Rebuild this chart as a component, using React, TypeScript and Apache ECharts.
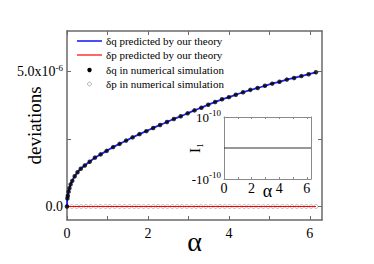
import React, { useEffect, useRef } from "react";
import * as echarts from "echarts";

const FONT = "Liberation Serif";

// δq (theory curve and simulation dots share these α positions), values in units of 1e-6
const dqAlpha = [0, 0.01, 0.02, 0.04, 0.06, 0.09, 0.13, 0.19, 0.26, 0.34, 0.44, 0.56, 0.69, 0.83, 0.98, 1.14, 1.3, 1.46, 1.62, 1.79, 1.96, 2.13, 2.3, 2.47, 2.64, 2.81, 2.98, 3.15, 3.32, 3.49, 3.66, 3.83, 4.0, 4.17, 4.35, 4.53, 4.71, 4.89, 5.07, 5.25, 5.43, 5.61, 5.79, 5.97, 6.15];
const dqValues = [0, 0.3, 0.4, 0.55, 0.68, 0.82, 0.95, 1.12, 1.27, 1.4, 1.52, 1.66, 1.81, 1.93, 2.06, 2.2, 2.32, 2.44, 2.56, 2.68, 2.79, 2.91, 3.02, 3.13, 3.24, 3.34, 3.45, 3.56, 3.66, 3.77, 3.87, 3.97, 4.05, 4.14, 4.23, 4.32, 4.39, 4.47, 4.55, 4.62, 4.7, 4.76, 4.83, 4.9, 4.97];

// δp theory line
const dpTheoryAlpha = [0, 6.15];
const dpTheoryValues = [0, 0];

// δp simulation (open circles)
const dpSimAlpha = [0, 0.12, 0.24, 0.35, 0.47, 0.59, 0.71, 0.83, 0.95, 1.06, 1.18, 1.3, 1.42, 1.54, 1.66, 1.77, 1.89, 2.01, 2.13, 2.25, 2.37, 2.48, 2.6, 2.72, 2.84, 2.96, 3.08, 3.19, 3.31, 3.43, 3.55, 3.67, 3.78, 3.9, 4.02, 4.14, 4.26, 4.38, 4.49, 4.61, 4.73, 4.85, 4.97, 5.09, 5.2, 5.32, 5.44, 5.56, 5.68, 5.8, 5.91, 6.03, 6.15];
const dpSimValues = [0, 0, 0, 0, 0, 0, 0, 0, 0, 0, 0, 0, 0, 0, 0, 0, 0, 0, 0, 0, 0, 0, 0, 0, 0, 0, 0, 0, 0, 0, 0, 0, 0, 0, 0, 0, 0, 0, 0, 0, 0, 0, 0, 0, 0, 0, 0, 0, 0, 0, 0, 0, 0];

// inset I1
const insetAlpha = [0, 6.3];
const insetValues = [0, 0];

const SCALE = 1e-6;
const mainYLabels = [0, 5e-6];
const mainYTicks = [0, 2.5e-6, 5e-6];
const mainXLabels = [0, 2, 4, 6];
const mainXTicks = [0, 1, 2, 3, 4, 5, 6];
const insetXLabels = [0, 2, 4, 6];
const insetXTicks = [0, 1, 2, 3, 4, 5, 6];
const insetYLabels = [-1e-10, 1e-10];

const legendItems = [
  "δq predicted by our theory",
  "δp predicted by our theory",
  "δq in numerical simulation",
  "δp in numerical simulation",
];

const zip = (xs: number[], ys: number[], s = 1) => xs.map((x, i) => [x, ys[i] * s]);

export default function App() {
  const ref = useRef<HTMLDivElement>(null);
  useEffect(() => {
    if (!ref.current) return;
    const chart = echarts.init(ref.current, null, { renderer: "svg" });
    const frame = { lineStyle: { color: "#6a6a6a", width: 1.5 } };
    const inFrame = { lineStyle: { color: "#8a8a8a", width: 1 } };
    const legendY = [41, 55, 70, 84];
    chart.setOption({
      animation: false,
      backgroundColor: "#fff",
      textStyle: { fontFamily: FONT },
      grid: [
        { left: 67, top: 31, width: 255, height: 189, containLabel: false, outerBoundsMode: "none" },
        { left: 224, top: 117, width: 87, height: 62, containLabel: false, outerBoundsMode: "none" },
      ],
      xAxis: [
        {
          gridIndex: 0, type: "value", min: 0, max: 6.3, position: "bottom",
          axisLine: { show: true, onZero: false, ...frame },
          axisTick: { show: true, inside: true, length: 4, customValues: mainXTicks, lineStyle: { color: "#6a6a6a", width: 1 } },
          axisLabel: { customValues: mainXLabels, fontSize: 14, color: "#000", fontFamily: FONT, margin: 6 },
          splitLine: { show: false },
          name: "α", nameLocation: "middle", nameGap: 7, nameMoveOverlap: false,
          nameTextStyle: { fontSize: 28, fontFamily: FONT, color: "#000", verticalAlign: "top" },
        },
        {
          gridIndex: 0, type: "value", min: 0, max: 6.3, position: "top",
          axisLine: { show: true, onZero: false, ...frame },
          axisTick: { show: true, inside: true, length: 4, customValues: mainXTicks, lineStyle: { color: "#6a6a6a", width: 1 } },
          axisLabel: { show: false }, splitLine: { show: false },
        },
        {
          gridIndex: 1, type: "value", min: 0, max: 6.3, position: "bottom",
          axisLine: { show: true, onZero: false, ...inFrame },
          axisTick: { show: true, inside: true, length: 2, customValues: insetXTicks, lineStyle: { color: "#8a8a8a" } },
          axisLabel: { customValues: insetXLabels, fontSize: 14, color: "#000", fontFamily: FONT, margin: 2 },
          splitLine: { show: false },
          name: "α", nameLocation: "middle", nameGap: 3, nameMoveOverlap: false,
          nameTextStyle: { fontSize: 18, fontFamily: FONT, color: "#000", verticalAlign: "top" },
        },
        {
          gridIndex: 1, type: "value", min: 0, max: 6.3, position: "top",
          axisLine: { show: true, onZero: false, ...inFrame },
          axisTick: { show: true, inside: true, length: 2, customValues: insetXTicks, lineStyle: { color: "#8a8a8a" } },
          axisLabel: { show: false }, splitLine: { show: false },
        },
      ],
      yAxis: [
        {
          gridIndex: 0, type: "value", min: -0.5e-6, max: 6.5e-6, position: "left",
          axisLine: { show: true, onZero: false, ...frame },
          axisTick: { show: true, inside: true, length: 4, customValues: mainYTicks, lineStyle: { color: "#6a6a6a", width: 1 } },
          axisLabel: {
            customValues: mainYLabels, fontSize: 14, color: "#000", fontFamily: FONT, margin: 4,
            formatter: (v: number) => (Math.abs(v) < 1e-12 ? "0.0" : "5.0x10{s|-6}"),
            rich: { s: { fontSize: 9, fontFamily: FONT, color: "#000", verticalAlign: "top", padding: [0, 0, 8, 0] } },
          },
          splitLine: { show: false },
          name: "deviations", nameLocation: "middle", nameGap: 23, nameMoveOverlap: false,
          nameTextStyle: { fontSize: 19, fontFamily: FONT, color: "#000" },
        },
        {
          gridIndex: 0, type: "value", min: -0.5e-6, max: 6.5e-6, position: "right",
          axisLine: { show: true, onZero: false, ...frame },
          axisTick: { show: true, inside: true, length: 4, customValues: mainYTicks, lineStyle: { color: "#6a6a6a", width: 1 } },
          axisLabel: { show: false }, splitLine: { show: false },
        },
        {
          gridIndex: 1, type: "value", min: -1e-10, max: 1e-10, position: "left",
          axisLine: { show: true, onZero: false, ...inFrame },
          axisTick: { show: false },
          axisLabel: {
            customValues: insetYLabels, fontSize: 13, color: "#000", fontFamily: FONT, margin: 3,
            formatter: (v: number) => (v > 0 ? "10{s|-10}" : "-10{s|-10}"),
            rich: { s: { fontSize: 9, fontFamily: FONT, color: "#000", verticalAlign: "top", padding: [0, 0, 8, 0] } },
          },
          splitLine: { show: false },
          name: "I₁", nameLocation: "middle", nameGap: 22, nameMoveOverlap: false,
          nameTextStyle: { fontSize: 15, fontFamily: FONT, color: "#000" },
        },
        {
          gridIndex: 1, type: "value", min: -1e-10, max: 1e-10, position: "right",
          axisLine: { show: true, onZero: false, ...inFrame },
          axisTick: { show: false }, axisLabel: { show: false }, splitLine: { show: false },
        },
      ],
      series: [
        {
          name: legendItems[3], type: "scatter", xAxisIndex: 0, yAxisIndex: 0,
          data: zip(dpSimAlpha, dpSimValues, SCALE), symbol: "circle", symbolSize: 4,
          itemStyle: { color: "rgba(255,255,255,0)", borderColor: "#9a9a9a", borderWidth: 0.8 },
          z: 2,
        },
        {
          name: legendItems[1], type: "line", xAxisIndex: 0, yAxisIndex: 0,
          data: zip(dpTheoryAlpha, dpTheoryValues, SCALE), showSymbol: false, symbol: "none",
          lineStyle: { color: "#ff0000", width: 1.2 }, z: 3,
        },
        {
          name: legendItems[0], type: "line", xAxisIndex: 0, yAxisIndex: 0,
          data: zip(dqAlpha, dqValues, SCALE), showSymbol: false, symbol: "none", smooth: 0.3,
          lineStyle: { color: "#1f1fff", width: 1.8 }, z: 3,
        },
        {
          name: legendItems[2], type: "scatter", xAxisIndex: 0, yAxisIndex: 0,
          data: zip(dqAlpha, dqValues, SCALE), symbol: "circle", symbolSize: 4.5,
          itemStyle: { color: "#000" }, z: 4,
        },
        {
          name: "I1", type: "line", xAxisIndex: 2, yAxisIndex: 2,
          data: zip(insetAlpha, insetValues), showSymbol: false, symbol: "none",
          lineStyle: { color: "#333", width: 1.2 },
        },
      ],
      graphic: [
        { type: "line", shape: { x1: 77, y1: legendY[0], x2: 102, y2: legendY[0] }, style: { stroke: "#1f1fff", lineWidth: 1.6 } },
        { type: "line", shape: { x1: 77, y1: legendY[1], x2: 102, y2: legendY[1] }, style: { stroke: "#ff0000", lineWidth: 1.2 } },
        { type: "circle", shape: { cx: 89.5, cy: legendY[2], r: 2.2 }, style: { fill: "#000" } },
        { type: "circle", shape: { cx: 89.5, cy: legendY[3], r: 1.9 }, style: { fill: "none", stroke: "#9a9a9a", lineWidth: 0.8 } },
        ...legendItems.map((t, i) => ({
          type: "text", x: 106, y: legendY[i],
          style: { text: t, fontSize: 11, fontFamily: FONT, fill: "#000", verticalAlign: "middle", align: "left" },
        })),
      ],
    });
    return () => chart.dispose();
  }, []);
  return <div ref={ref} style={{ position: "fixed", left: 0, top: 0, width: 374, height: 264 }} />;
}
